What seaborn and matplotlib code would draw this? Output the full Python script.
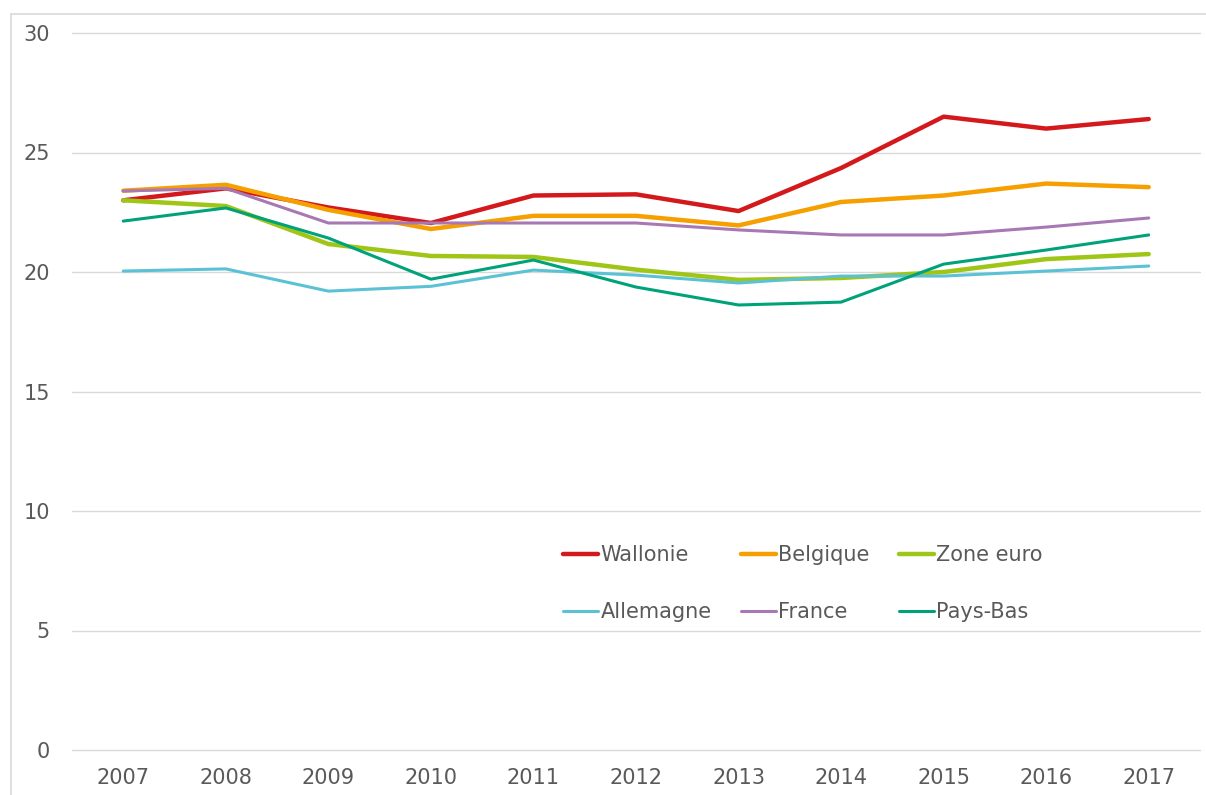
import pandas as pd
import matplotlib.pyplot as plt
import seaborn as sns
from matplotlib.patches import Rectangle

# Years on the x axis
years = list(range(2007, 2018))

# Series values
wallonie = [23.0, 23.5, 22.7, 22.05, 23.2, 23.25, 22.55, 24.35, 26.5, 26.0, 26.4]
belgique = [23.4, 23.65, 22.6, 21.8, 22.35, 22.35, 21.95, 22.93, 23.2, 23.7, 23.55]
zone_euro = [23.0, 22.76, 21.17, 20.67, 20.63, 20.1, 19.67, 19.75, 20.0, 20.54, 20.75]
allemagne = [20.04, 20.13, 19.2, 19.4, 20.08, 19.87, 19.54, 19.83, 19.83, 20.04, 20.25]
france = [23.39, 23.5, 22.05, 22.05, 22.05, 22.05, 21.76, 21.55, 21.55, 21.88, 22.26]
pays_bas = [22.13, 22.68, 21.42, 19.7, 20.5, 19.37, 18.62, 18.74, 20.33, 20.92, 21.55]

series = {
    "Wallonie": wallonie,
    "Belgique": belgique,
    "Zone euro": zone_euro,
    "Allemagne": allemagne,
    "France": france,
    "Pays-Bas": pays_bas,
}
colors = {
    "Wallonie": "#d4191c",
    "Belgique": "#f5a000",
    "Zone euro": "#9fc517",
    "Allemagne": "#5bc2d6",
    "France": "#a878b4",
    "Pays-Bas": "#00a27a",
}
widths = {
    "Wallonie": 3.2,
    "Belgique": 3.2,
    "Zone euro": 3.2,
    "Allemagne": 2.2,
    "France": 2.2,
    "Pays-Bas": 2.2,
}

# Long-form table for seaborn
df = pd.DataFrame(
    [(name, y, v) for name, vals in series.items() for y, v in zip(years, vals)],
    columns=["Série", "Année", "Valeur"],
)

sns.set_style("white")
plt.rcParams["font.family"] = ["DejaVu Sans"]
text_color = "#595959"

fig = plt.figure(figsize=(12.06, 7.95), dpi=100)
ax = fig.add_axes([72 / 1206, 45 / 795, 1128 / 1206, 717 / 795])

handles = {}
for name in series:
    sub = df[df["Série"] == name]
    sns.lineplot(data=sub, x="Année", y="Valeur", color=colors[name],
                 linewidth=widths[name], ax=ax, label=name,
                 solid_capstyle="round", solid_joinstyle="round")
    handles[name] = ax.lines[-1]

ax.set_xlim(2006.5, 2017.5)
ax.set_ylim(0, 30)
ax.set_yticks(range(0, 31, 5))
ax.set_xticks(years)
ax.set_xlabel("")
ax.set_ylabel("")
ax.grid(axis="y", color="#d9d9d9", linewidth=1)
ax.set_axisbelow(True)
for g in ax.get_ygridlines():
    g.set_clip_on(False)
for s in ax.spines.values():
    s.set_visible(False)
ax.tick_params(axis="both", length=0, labelsize=15, labelcolor=text_color)
ax.tick_params(axis="y", pad=16)
ax.tick_params(axis="x", pad=13)

# Legend: two rows of three, filled column by column
order = ["Wallonie", "Allemagne", "Belgique", "France", "Zone euro", "Pays-Bas"]
leg = ax.legend([handles[n] for n in order], order, ncol=3, frameon=False,
                loc="upper left", bbox_to_anchor=(563 / 1206, 1 - 545 / 795),
                bbox_transform=fig.transFigure, fontsize=15,
                handlelength=1.7, handletextpad=0.1, columnspacing=1.4,
                labelspacing=1.8, borderpad=0, borderaxespad=0)
for t in leg.get_texts():
    t.set_color(text_color)

# Light outer frame, partly cut at the image edge
fig.patches.append(Rectangle((11 / 1206, -0.1), 1.2, 1.1 - 14 / 795,
                             transform=fig.transFigure, fill=False,
                             edgecolor="#d9d9d9", linewidth=1.2))

fig.savefig("out.png", dpi=100)
